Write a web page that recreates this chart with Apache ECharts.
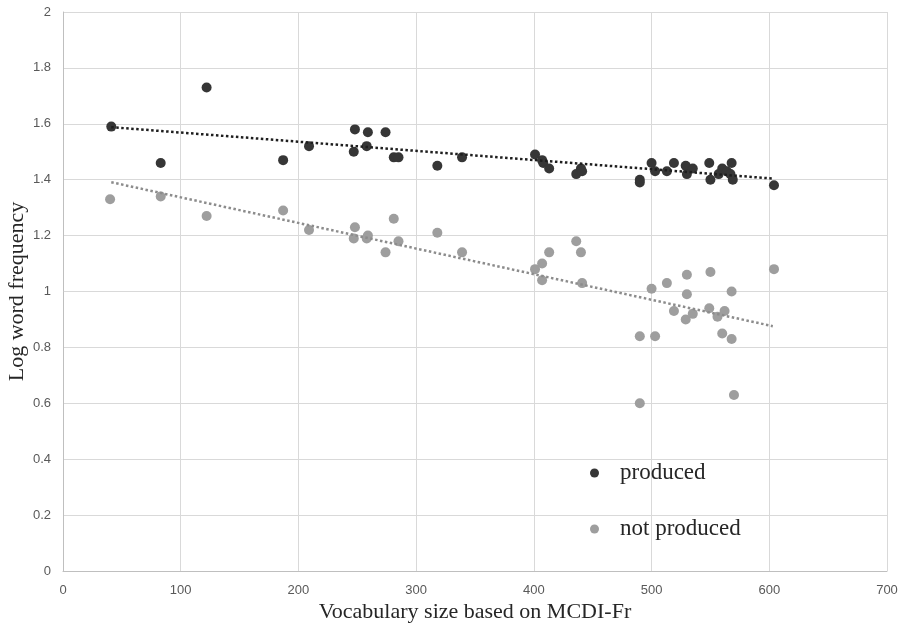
<!DOCTYPE html>
<html>
<head>
<meta charset="utf-8">
<script src="https://cdn.jsdelivr.net/npm/echarts@6/dist/echarts.min.js"></script>
<style>
  html, body { margin: 0; padding: 0; background: #fff; }
  #chart-main { width: 905px; height: 629px; }
</style>
</head>
<body>
<div id="chart-main"></div>
<script>
// 已说出的词 (vocabulary size, log frequency)
var producedX = [41, 83, 122, 187, 209, 248, 247, 259, 258, 274, 281, 285, 318, 339,
    401, 407, 408, 413, 436, 440, 441, 490, 490, 500, 503, 513, 519, 529, 530, 535,
    549, 550, 557, 560, 564, 568, 567, 569, 604];
var producedY = [1.59, 1.46, 1.73, 1.47, 1.52, 1.58, 1.50, 1.57, 1.52, 1.57, 1.48, 1.48, 1.45, 1.48,
    1.49, 1.47, 1.46, 1.44, 1.42, 1.44, 1.43, 1.40, 1.39, 1.46, 1.43, 1.43, 1.46, 1.45, 1.42, 1.44,
    1.46, 1.40, 1.42, 1.44, 1.43, 1.46, 1.42, 1.40, 1.38];

// 未说出的词
var notProducedX = [40, 83, 122, 187, 209, 248, 247, 259, 258, 274, 281, 285, 318, 339,
    401, 407, 407, 413, 436, 440, 441, 490, 490, 500, 503, 513, 519, 530, 530, 529, 535,
    550, 549, 556, 560, 562, 568, 568, 570, 604];
var notProducedY = [1.33, 1.34, 1.27, 1.29, 1.22, 1.23, 1.19, 1.20, 1.19, 1.14, 1.26, 1.18, 1.21, 1.14,
    1.08, 1.10, 1.04, 1.14, 1.18, 1.14, 1.03, 0.84, 0.60, 1.01, 0.84, 1.03, 0.93, 1.06, 0.99, 0.90, 0.92,
    1.07, 0.94, 0.91, 0.85, 0.93, 1.00, 0.83, 0.63, 1.08];

// 趋势线两端
var producedTrend = [[41, 1.588], [603, 1.404]];
var notProducedTrend = [[41, 1.391], [603, 0.876]];

var seriesNames = ["produced", "not produced"];

function zipPoints(xs, ys) {
    return xs.map(function (x, i) { return [x, ys[i]]; });
}

var serifFont = "'Liberation Serif', 'DejaVu Serif', serif";
var tickStyle = {
    color: "#595959",
    fontSize: 13,
    fontFamily: "'Liberation Sans', 'DejaVu Sans', sans-serif"
};

var option = {
    animation: false,
    backgroundColor: "#ffffff",
    grid: {
        left: 63,
        right: 18,
        top: 12,
        bottom: 58,
        containLabel: false,
        outerBoundsMode: "none"
    },
    legend: {
        data: seriesNames,
        orient: "vertical",
        left: 585,
        top: 456,
        icon: "circle",
        itemWidth: 9,
        itemHeight: 9,
        itemGap: 32,
        textStyle: {
            fontFamily: serifFont,
            fontSize: 23,
            color: "#262626",
            lineHeight: 24,
            padding: [0, 0, 0, 16]
        }
    },
    xAxis: {
        type: "value",
        min: 0,
        max: 700,
        interval: 100,
        name: "Vocabulary size based on MCDI-Fr",
        nameLocation: "middle",
        nameGap: 30,
        nameMoveOverlap: false,
        nameTextStyle: {
            fontFamily: serifFont,
            fontSize: 22,
            color: "#262626"
        },
        axisLine: { show: true, lineStyle: { color: "#bfbfbf", width: 1 } },
        axisTick: { show: false },
        axisLabel: Object.assign({ margin: 13 }, tickStyle),
        splitLine: { show: true, lineStyle: { color: "#d9d9d9", width: 1 } }
    },
    yAxis: {
        type: "value",
        min: 0,
        max: 2,
        interval: 0.2,
        name: "Log word frequency",
        nameLocation: "middle",
        nameGap: 35,
        nameMoveOverlap: false,
        nameTextStyle: {
            fontFamily: serifFont,
            fontSize: 22,
            color: "#262626"
        },
        axisLine: { show: true, lineStyle: { color: "#bfbfbf", width: 1 } },
        axisTick: { show: false },
        axisLabel: Object.assign({ margin: 12 }, tickStyle),
        splitLine: { show: true, lineStyle: { color: "#d9d9d9", width: 1 } }
    },
    series: [
        {
            name: "produced",
            type: "scatter",
            symbolSize: 10,
            itemStyle: { color: "#363636", opacity: 1 },
            data: zipPoints(producedX, producedY),
            z: 2
        },
        {
            name: "not produced",
            type: "scatter",
            symbolSize: 10,
            itemStyle: { color: "#9e9e9e", opacity: 1 },
            data: zipPoints(notProducedX, notProducedY),
            z: 2
        },
        {
            name: "produced trend",
            type: "line",
            showSymbol: false,
            silent: true,
            lineStyle: { color: "#1e1e1e", width: 2.5, type: "dotted" },
            data: producedTrend,
            z: 3
        },
        {
            name: "not produced trend",
            type: "line",
            showSymbol: false,
            silent: true,
            lineStyle: { color: "#8c8c8c", width: 2.5, type: "dotted" },
            data: notProducedTrend,
            z: 3
        }
    ]
};

var mychart = echarts.init(document.getElementById("chart-main"));
mychart.setOption(option);
</script>
</body>
</html>
